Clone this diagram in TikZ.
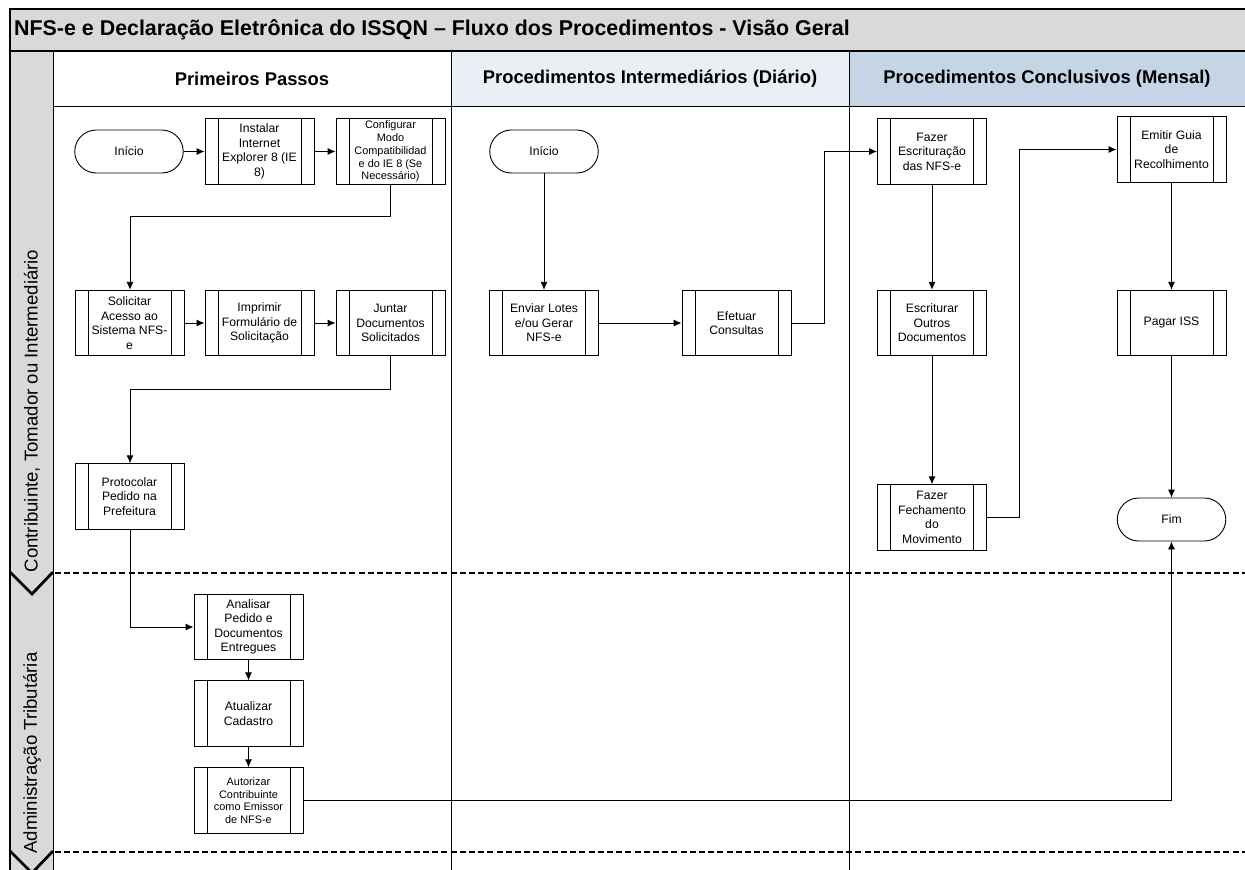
\documentclass[tikz,border=0pt]{standalone}
\usepackage{fontspec}
\setmainfont{Liberation Sans}
\usetikzlibrary{arrows.meta,calc}
\definecolor{bandgray}{HTML}{D9D9D9}
\definecolor{headlight}{HTML}{EAEFF6}
\definecolor{headblue}{HTML}{C6D5E6}
\tikzset{
  x=1pt,y=-1pt,
  every node/.style={font=\fontsize{12.2}{14.5}\selectfont,align=center,inner sep=0pt,text=black},
  subproc/.style={draw=black,fill=white,line width=0.9pt,minimum width=109pt,minimum height=65.5pt,
    path picture={
      \draw[line width=0.9pt] ($(path picture bounding box.north west)+(13,0)$) -- ($(path picture bounding box.south west)+(13,0)$);
      \draw[line width=0.9pt] ($(path picture bounding box.north east)+(-13,0)$) -- ($(path picture bounding box.south east)+(-13,0)$);
    }},
  smalltxt/.style={font=\fontsize{10.9}{12.8}\selectfont},
  terminal/.style={draw=black,fill=white,line width=0.9pt,rounded corners=21.5pt,minimum width=108.5pt,minimum height=43pt},
  flow/.style={draw=black,line width=0.9pt,-{Latex[length=8pt,width=7pt]}},
  lane/.style={draw=black,line width=1pt},
  thinlane/.style={draw=black,line width=0.8pt},
  heavy/.style={draw=black,line width=1.5pt},
  sep/.style={draw=black,line width=2.7pt,dash pattern=on 6pt off 3.2pt},
  chev/.style={draw=black,line width=2.8pt},
  headtxt/.style={font=\fontsize{18.4}{22}\bfseries\selectfont},
  lanetxt/.style={font=\fontsize{18.6}{22}\selectfont,rotate=90}
}
\begin{document}
\begin{tikzpicture}
\useasboundingbox (0,0) rectangle (1245,870);
% backgrounds
\fill[white] (0,0) rectangle (1245,870);
\fill[bandgray] (10,9) rectangle (1245,51);
\fill[bandgray] (10,51) rectangle (53,870);
\fill[headlight] (451,51) rectangle (849,106);
\fill[headblue] (849,51) rectangle (1245,106);
% frames
\draw[heavy] (1245,9) -- (10,9) -- (10,870);
\draw[heavy] (10,51) -- (1245,51);
\draw[lane] (53,51) -- (53,870);
\draw[thinlane] (53,106) -- (1245,106);
\draw[lane] (451,51) -- (451,870);
\draw[lane] (849,51) -- (849,870);
% lane separators
\draw[sep] (55,573) -- (1245,573);
\draw[sep] (55,852) -- (1245,852);
\draw[chev] (10,572) -- (32,594) -- (53,572);
\draw[chev] (10,851) -- (32,873) -- (53,851);
% titles
\node[anchor=west,font=\fontsize{21.4}{25}\bfseries\selectfont] (title) at (14,30) {NFS-e e Declaração Eletrônica do ISSQN – Fluxo dos Procedimentos - Visão Geral};
\node[headtxt] (h1) at (252,79) {Primeiros Passos};
\node[headtxt] (h2) at (650,79) {Procedimentos Intermediários (Diário)};
\node[headtxt] (h3) at (1047,79) {Procedimentos Conclusivos (Mensal)};
\node[lanetxt] (l1) at (32,411) {Contribuinte, Tomador ou Intermediário};
\node[lanetxt] (l2) at (32,753) {Administração Tributária};
% column 1
\node[terminal] (ini1) at (129,151.5) {Início};
\node[subproc] (inst) at (259.5,151.5) {Instalar\\Internet\\Explorer 8 (IE\\8)};
\node[subproc,smalltxt] (conf) at (390.5,151.5) {Configurar\\Modo\\Compatibilidad\\e do IE 8 (Se\\Necessário)};
\node[subproc] (soli) at (129.5,323) {Solicitar\\Acesso ao\\Sistema NFS-\\e};
\node[subproc] (impr) at (259.5,323) {Imprimir\\Formulário de\\Solicitação};
\node[subproc] (junt) at (390.5,323) {Juntar\\Documentos\\Solicitados};
\node[subproc] (prot) at (129.5,496.5) {Protocolar\\Pedido na\\Prefeitura};
\node[subproc] (anal) at (248.5,627) {Analisar\\Pedido e\\Documentos\\Entregues};
\node[subproc] (atua) at (248.5,713.5) {Atualizar\\Cadastro};
\node[subproc,smalltxt] (auto) at (248.5,800.5) {Autorizar\\Contribuinte\\como Emissor\\de NFS-e};
% column 2
\node[terminal] (ini2) at (544,151.5) {Início};
\node[subproc] (envi) at (544,323) {Enviar Lotes\\e/ou Gerar\\NFS-e};
\node[subproc] (efet) at (736.5,323) {Efetuar\\Consultas};
% column 3
\node[subproc] (escr) at (932,151.5) {Fazer\\Escrituração\\das NFS-e};
\node[subproc] (outr) at (932,323) {Escriturar\\Outros\\Documentos};
\node[subproc] (fech) at (932,517.5) {Fazer\\Fechamento\\do\\Movimento};
\node[subproc] (guia) at (1171.5,149.5) {Emitir Guia\\de\\Recolhimento};
\node[subproc] (paga) at (1171.5,323) {Pagar ISS};
\node[terminal] (fim) at (1171.5,519.5) {Fim};
% connectors
\draw[flow] (ini1) -- (inst);
\draw[flow] (inst) -- (conf);
\coordinate (c1) at (130,216);
\draw[flow] (conf.south) |- (c1) -- (soli.north -| c1);
\draw[flow] (soli) -- (impr);
\draw[flow] (impr) -- (junt);
\coordinate (c2) at (130,389);
\draw[flow] (junt.south) |- (c2) -- (prot.north -| c2);
\draw[flow] (prot.south -| c2) |- (anal.west);
\draw[flow] (anal) -- (atua);
\draw[flow] (atua) -- (auto);
\draw[flow] (auto.east) -| (fim.south);
\draw[flow] (ini2) -- (envi);
\draw[flow] (envi) -- (efet);
\coordinate (c3) at (824,323);
\draw[flow] (efet.east) -- (c3) |- (escr.west);
\draw[flow] (escr) -- (outr);
\draw[flow] (outr) -- (fech);
\coordinate (c4) at (1019,517.5);
\draw[flow] (fech.east) -- (c4) |- (guia.west);
\draw[flow] (guia) -- (paga);
\draw[flow] (paga) -- (fim);
\end{tikzpicture}
\end{document}
